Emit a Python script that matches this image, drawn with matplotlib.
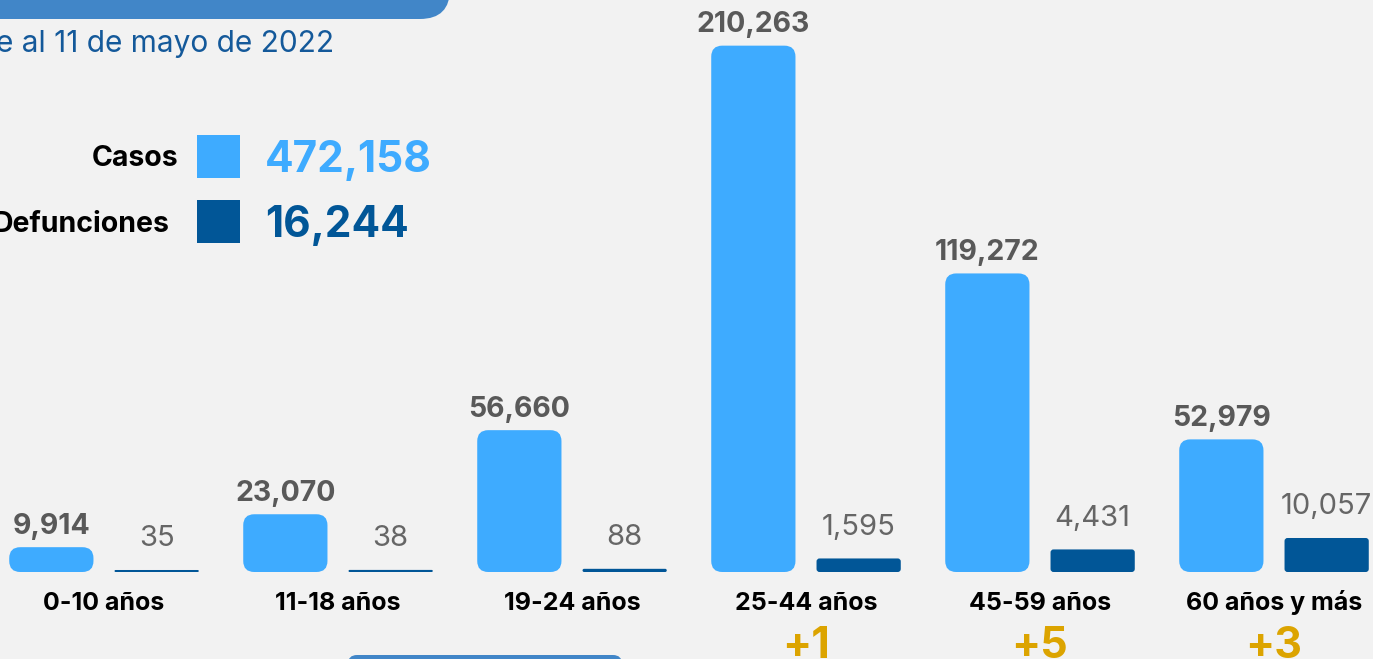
import numpy as np
import matplotlib
matplotlib.use("Agg")
import matplotlib.pyplot as plt
from matplotlib.patches import FancyBboxPatch
from matplotlib.transforms import IdentityTransform

# ---------------- data ----------------
categories = ['0-10 años', '11-18 años', '19-24 años', '25-44 años', '45-59 años', '60 años y más']
casos = [9914, 23070, 56660, 210263, 119272, 52979]
defunciones = [35, 38, 88, 1595, 4431, 10057]
incrementos = ['', '', '', '+1', '+5', '+3']
legend_labels = ['Casos', 'Defunciones']
legend_totals = ['472,158', '16,244']
subtitle = 'e al 11 de mayo de 2022'

# ---------------- style ----------------
W, H = 1373, 659
BG = '#f2f2f2'
C_CASOS = '#3eabff'
C_DEF = '#015697'
C_BANNER = '#4186c8'
C_SUB = '#14599a'
C_GOLD = '#dca400'
C_VAL = '#595959'
C_DVAL = '#666666'
FONT = ['Inter', 'DejaVu Sans']
plt.rcParams['font.family'] = FONT

fig = plt.figure(figsize=(W / 100, H / 100), dpi=100, facecolor=BG)
base_px = 572
ax = fig.add_axes([0, (H - base_px) / H, 1, base_px / H])
ax.set_facecolor('none')
ax.axis('off')
ax2 = ax.twinx()
ax2.axis('off')

spacing = 234.0
ax.set_xlim(-104 / spacing, (W - 104) / spacing)
ax.set_ylim(0, 228500)
ax2.set_yscale('function', functions=(lambda v: np.sqrt(np.clip(v, 0, None)), lambda v: np.square(v)))
ax2.set_ylim(0, 2.846e6)

x = np.arange(len(categories))
off = 0.225
bw = 0.36

b1 = ax.bar(x - off, casos, width=bw, color=C_CASOS)
b2 = ax2.bar(x + off, defunciones, width=bw, color=C_DEF)


def round_bars(axis, bars, r_px, color, min_h=2.0):
    for rect in bars:
        x0, y0 = rect.get_x(), rect.get_y()
        (px0, py0), (px1, py1) = axis.transData.transform(
            [(x0, y0), (x0 + rect.get_width(), y0 + rect.get_height())])
        h = max(py1 - py0, min_h)
        r = min(r_px, h / 2.0, (px1 - px0) / 2.0)
        p = FancyBboxPatch((px0, py0), px1 - px0, h,
                           boxstyle=f"round,pad=0,rounding_size={r}",
                           transform=IdentityTransform(), facecolor=color,
                           edgecolor='none', clip_on=False, zorder=3)
        axis.add_artist(p)
        rect.set_visible(False)


round_bars(ax, b1, 11, C_CASOS)
round_bars(ax2, b2, 3, C_DEF)

for xi, v in zip(x, casos):
    ax.annotate(f"{v:,}", xy=(xi - off, v), xytext=(0, 9.5), textcoords='offset points',
                ha='center', va='baseline', fontsize=20.5, fontweight='bold', color=C_VAL)
for xi, v in zip(x, defunciones):
    ax2.annotate(f"{v:,}", xy=(xi + off, v), xytext=(0, 17), textcoords='offset points',
                 ha='center', va='baseline', fontsize=21, color=C_DVAL)
for xi, lab, inc in zip(x, categories, incrementos):
    ax.annotate(lab, xy=(xi, 0), xytext=(0, -27.5), textcoords='offset points',
                ha='center', va='baseline', fontsize=18, fontweight='bold', color='black')
    if inc:
        ax.annotate(inc, xy=(xi, 0), xytext=(0, -62), textcoords='offset points',
                    ha='center', va='baseline', fontsize=31, fontweight='bold', color=C_GOLD)


def fx(px):
    return px / W


def fy(py):
    return 1 - py / H


# banner at top left
fig.patches.append(FancyBboxPatch((-60, H - 19), 510, 80,
                                  boxstyle="round,pad=0,rounding_size=30",
                                  transform=IdentityTransform(), facecolor=C_BANNER,
                                  edgecolor='none', figure=fig))
fig.text(fx(334), fy(52), subtitle, ha='right', va='baseline', fontsize=21.5, color=C_SUB)

# legend
sq_cols = [C_CASOS, C_DEF]
rows_y = [156, 221]
label_right = [178, 169]
for lab, tot, col, cy, lr in zip(legend_labels, legend_totals, sq_cols, rows_y, label_right):
    fig.patches.append(FancyBboxPatch((197, H - cy - 22), 43, 43, boxstyle="square,pad=0",
                                      transform=IdentityTransform(), facecolor=col,
                                      edgecolor='none', figure=fig))
    fig.text(fx(lr), fy(cy), lab, ha='right', va='center_baseline', fontsize=20.5,
             fontweight='bold', color='black')
    fig.text(fx(265), fy(cy), tot, ha='left', va='center_baseline', fontsize=30.5,
             fontweight='bold', color=col)

# bottom tab
fig.patches.append(FancyBboxPatch((348, -30), 274, 34,
                                  boxstyle="round,pad=0,rounding_size=9",
                                  transform=IdentityTransform(), facecolor=C_BANNER,
                                  edgecolor='none', figure=fig))

fig.savefig('out.png', dpi=100, facecolor=BG)
